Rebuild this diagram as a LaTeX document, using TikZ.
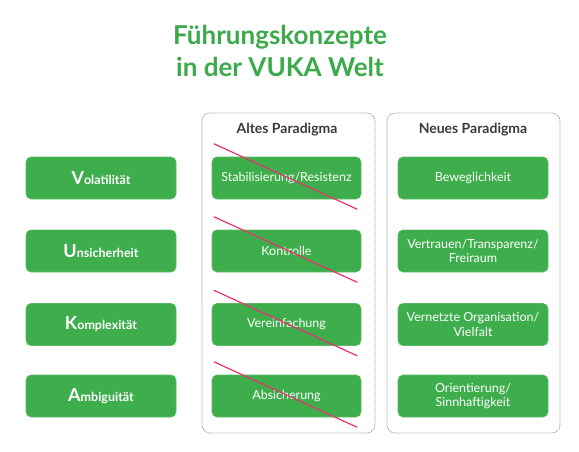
\documentclass[tikz,border=0pt]{standalone}
\usepackage{fontspec}
\setmainfont{Lato}
\usetikzlibrary{calc}
\definecolor{vgreen}{HTML}{3DAE4B}
\definecolor{tgreen}{HTML}{3BAA4A}
\definecolor{strike}{HTML}{E8336E}
\definecolor{hgray}{HTML}{3A3A3A}
\definecolor{dgray}{HTML}{8A8A8A}
\tikzset{
  gbox/.style={fill=vgreen, draw=vgreen!85!white, line width=0.6pt, rounded corners=5pt, text=white,
    minimum width=150pt, minimum height=42pt, inner sep=0pt, align=center,
    font=\fontsize{12.5}{14.5}\selectfont},
  lbox/.style={gbox, font=\bfseries\fontsize{12.5}{14.5}\selectfont},
  frame/.style={draw=dgray, dash pattern=on 1.2pt off 0.8pt, line width=0.6pt, rounded corners=8pt},
  head/.style={text=hgray, font=\bfseries\fontsize{14}{16}\selectfont, inner sep=0pt},
  strk/.style={draw=strike, line width=1.2pt},
}
\newcommand{\BigInit}[1]{{\fontsize{18}{18}\selectfont #1}}
\begin{document}
\begin{tikzpicture}[x=1pt,y=-1pt]
\useasboundingbox (0,0) rectangle (579,452);
% title
\node[text=tgreen, font=\bfseries\fontsize{26}{32}\selectfont, align=center, inner sep=0pt] (title) at (280,51) {Führungskonzepte\\in der VUKA Welt};
% frames
\draw[frame] (202,113) rectangle (375,433);
\draw[frame] (387,113) rectangle (560,433);
\node[head] (h1) at (287,130) {Altes Paradigma};
\node[head] (h2) at (473,130) {Neues Paradigma};
% left column
\node[lbox] (l1) at (101,178) {\BigInit{V}olatilität};
\node[lbox] (l2) at (101,251) {\BigInit{U}nsicherheit};
\node[lbox] (l3) at (101,324.5) {\BigInit{K}omplexität};
\node[lbox] (l4) at (101,396) {\BigInit{A}mbiguität};
% old column
\node[gbox, minimum width=149pt] (o1) at (286.5,178) {Stabilisierung/Resistenz};
\node[gbox, minimum width=149pt] (o2) at (286.5,251) {Kontrolle};
\node[gbox, minimum width=149pt] (o3) at (286.5,324.5) {Vereinfachung};
\node[gbox, minimum width=149pt] (o4) at (286.5,396) {Absicherung};
% new column
\node[gbox] (n1) at (473,178) {Beweglichkeit};
\node[gbox] (n2) at (473,251) {Vertrauen/Transparenz/\\Freiraum};
\node[gbox] (n3) at (473,324.5) {Vernetzte Organisation/\\Vielfalt};
\node[gbox] (n4) at (473,396) {Orientierung/\\Sinnhaftigkeit};
% strike-through lines
\foreach \o in {o1,o2,o3,o4}{
  \draw[strk] ($(\o.north west)+(2,-13)$) -- ($(\o.south east)+(-4,10)$);
}
\end{tikzpicture}
\end{document}
